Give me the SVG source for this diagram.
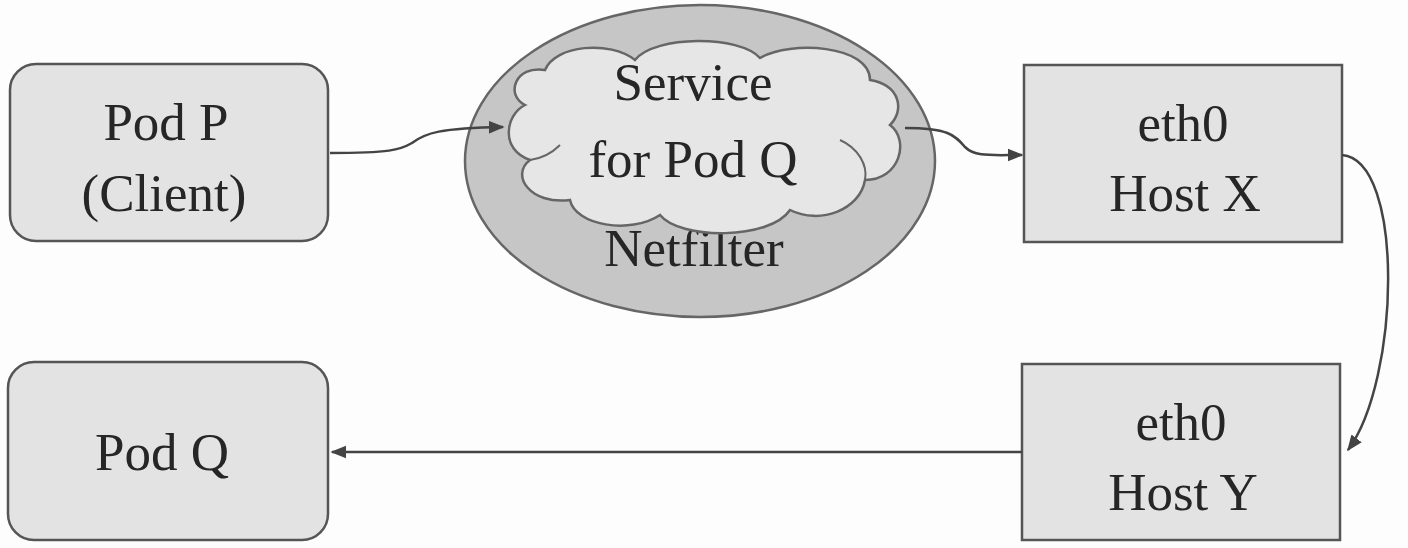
<svg xmlns="http://www.w3.org/2000/svg" width="1408" height="548" viewBox="0 0 1408 548">
<defs>
<marker id="arr" viewBox="0 0 10 10" refX="9" refY="5" markerWidth="16" markerHeight="16" markerUnits="userSpaceOnUse" orient="auto">
<path d="M0,1 L10,5 L0,9 Z" fill="#444"/>
</marker>
<style>
.box{fill:#e3e3e3;stroke:#555;stroke-width:2.5}
.lbl{font-size:53px;fill:#262626;text-anchor:middle}
.conn{fill:none;stroke:#444;stroke-width:2.5}
</style>
</defs>
<rect width="1408" height="548" fill="#fdfdfd"/>
<g font-family="'Liberation Serif', 'DejaVu Serif', 'Times New Roman', serif">
<g id="podP">
<rect class="box" x="10" y="64" width="318" height="177" rx="26"/>
<text class="lbl" x="166" y="140">Pod P</text>
<text class="lbl" x="164" y="211">(Client)</text>
</g>
<g id="netfilter">
<ellipse cx="700" cy="161" rx="235" ry="156" fill="#c6c6c6" stroke="#666" stroke-width="2.5"/>
<text class="lbl" x="694" y="266">Netfilter</text>
</g>
<g id="service">
<path d="M525,105 C505,95 515,65 545,70 C555,45 610,40 635,60 C655,35 740,35 760,58 C790,40 870,45 870,80 C900,85 905,110 890,125 C910,140 900,180 865,180 C860,210 820,225 790,210 C770,240 680,240 660,215 C630,235 575,225 570,200 C530,205 510,175 530,160 C500,150 505,115 525,105 Z" fill="#e6e6e6" stroke="#666" stroke-width="2.5"/>
<path d="M530,160 C545,158 555,150 560,145" fill="none" stroke="#666" stroke-width="2"/>
<path d="M865,180 C868,165 858,148 840,140" fill="none" stroke="#666" stroke-width="2"/>
<text class="lbl" x="693" y="100">Service</text>
<text class="lbl" x="693" y="177">for Pod Q</text>
</g>
<g id="hostX">
<rect class="box" x="1024" y="65" width="318" height="177"/>
<text class="lbl" x="1183" y="141">eth0</text>
<text class="lbl" x="1185" y="211">Host X</text>
</g>
<g id="hostY">
<rect class="box" x="1022" y="364" width="318" height="176"/>
<text class="lbl" x="1181" y="440">eth0</text>
<text class="lbl" x="1183" y="510">Host Y</text>
</g>
<g id="podQ">
<rect class="box" x="8" y="362" width="320" height="178" rx="26"/>
<text class="lbl" x="162" y="470">Pod Q</text>
</g>
</g>
<g id="connectors">
<path class="conn" d="M330,153 C390,153 400,150 412,143 C425,133 440,128 503,127" marker-end="url(#arr)"/>
<path class="conn" d="M905,128 C948,128 955,135 965,147 C975,157 990,155 1022,155" marker-end="url(#arr)"/>
<path class="conn" d="M1342,155 C1405,160 1400,380 1348,450" marker-end="url(#arr)"/>
<path class="conn" d="M1022,452 L332,452" marker-end="url(#arr)"/>
</g>
</svg>
